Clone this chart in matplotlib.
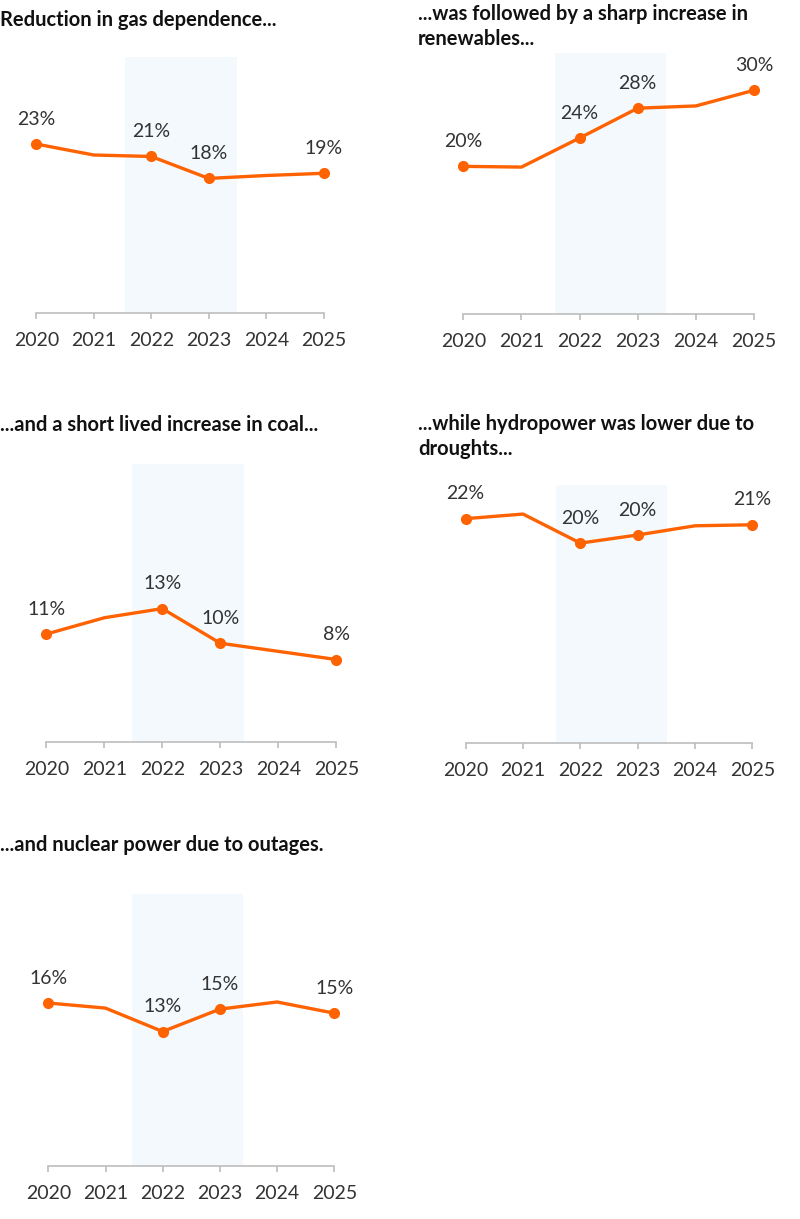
import matplotlib.pyplot as plt

plt.rcParams["font.family"] = ["Lato", "DejaVu Sans"]

years = [2020, 2021, 2022, 2023, 2024, 2025]
labelled = [0, 2, 3, 5]  # points that carry a marker and a value label

titles = [
    "Reduction in gas dependence...",
    "...was followed by a sharp increase in\nrenewables...",
    "...and a short lived increase in coal...",
    "...while hydropower was lower due to\ndroughts...",
    "...and nuclear power due to outages.",
]
gas = [23.1, 21.6, 21.4, 18.4, 18.8, 19.1]
renewables = [19.8, 19.7, 23.6, 27.6, 27.9, 30.0]
coal = [10.6, 12.2, 13.1, 9.7, 8.9, 8.1]
hydro = [22.0, 22.45, 19.6, 20.4, 21.3, 21.4]
nuclear = [16.0, 15.5, 13.2, 15.4, 16.1, 15.0]
series = [gas, renewables, coal, hydro, nuclear]

# shaded energy-crisis band (start, end) as read per panel
bands = [
    (2021.54, 2023.50),
    (2021.57, 2023.48),
    (2021.47, 2023.40),
    (2021.575, 2023.52),
    (2021.46, 2023.40),
]

ORANGE = "#FF6200"
BAND = "#F3F9FD"
GREY = "#BDBDBD"
TEXT = "#333333"

W, H = 800, 1219
fig = plt.figure(figsize=(W / 100, H / 100), dpi=100)

# layout in pixels: x of 2020 tick, x of 2025 tick, top of plot, baseline, ymax
layout = [
    (36.3, 323.7, 57, 313, 35.0),
    (463.3, 754.0, 53, 314, 35.0),
    (46.3, 336.3, 464, 742, 27.3),
    (465.7, 752.3, 485, 743, 25.3),
    (48.3, 334.3, 894, 1166, 26.7),
]
title_pos = [(0, 20), (418, 14), (0, 425), (418, 424), (0, 845)]

for i, (vals, (x0, x1, top, base, ymax)) in enumerate(zip(series, layout)):
    ax = fig.add_axes([x0 / W, 1 - base / H, (x1 - x0) / W, (base - top) / H])
    ax.set_xlim(years[0], years[-1])
    ax.set_ylim(0, ymax)
    ax.axvspan(*bands[i], color=BAND, lw=0, zorder=0)
    ax.plot(years, vals, color=ORANGE, lw=2.4, marker="o", ms=7,
            markevery=labelled, clip_on=False, zorder=3)
    for j in labelled:
        ax.annotate(f"{vals[j]:.0f}%", (years[j], vals[j]), xytext=(0, 14),
                    textcoords="offset points", ha="center", va="baseline",
                    fontsize=14, color=TEXT)
    for s in ["top", "right", "left"]:
        ax.spines[s].set_visible(False)
    ax.spines["bottom"].set_color(GREY)
    ax.spines["bottom"].set_linewidth(1.2)
    ax.set_yticks([])
    ax.set_xticks(years)
    ax.set_xticklabels([str(y) for y in years])
    ax.tick_params(axis="x", length=4.5, width=1.2, color=GREY, pad=9,
                   labelsize=14, labelcolor=TEXT)
    ax.patch.set_alpha(0)

    tx, ty = title_pos[i]
    lines = titles[i].split("\n")
    for k, line in enumerate(lines):
        fig.text(tx / W, 1 - (ty + 25 * k) / H, line, fontsize=14.5,
                 fontweight="bold", color="#111111", va="center", ha="left")

fig.savefig("out.png", dpi=100)
